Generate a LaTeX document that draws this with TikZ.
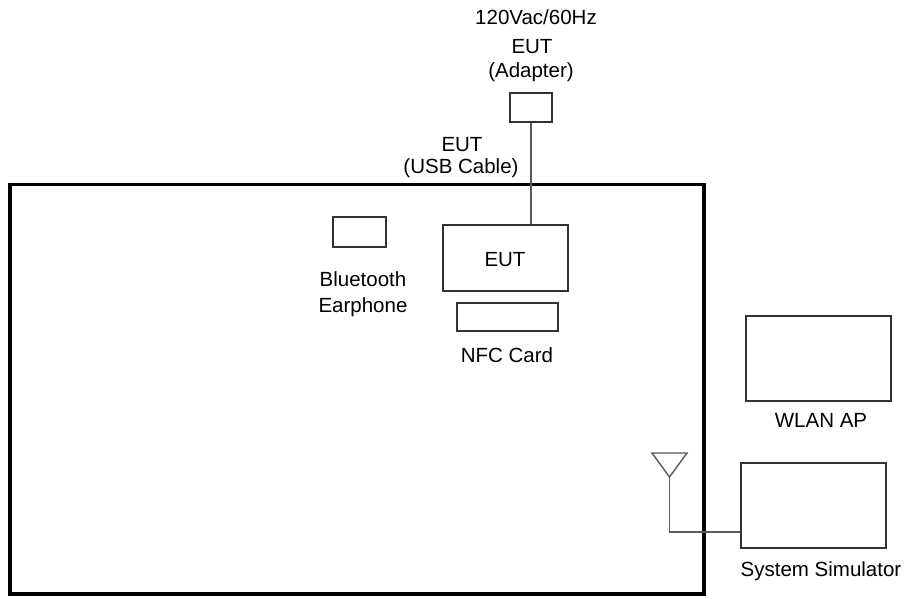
\documentclass[tikz,border=0pt]{standalone}
\usepackage{fontspec}
\setmainfont{Liberation Sans}
\begin{document}
\begin{tikzpicture}[x=1pt,y=-1pt,
  box/.style={draw=black!80,line width=1.4pt,minimum width=#1,inner sep=0pt},
  frame/.style={draw=black,line width=3.8pt},
  wire/.style={draw=black!65,line width=1.4pt},
  lbl/.style={font=\fontsize{20.5}{24}\selectfont,inner sep=0pt,anchor=base,text=black}]
\useasboundingbox (0,0) rectangle (910,598);
% main table frame
\draw[frame] (10,184.5) rectangle (704,594);
% boxes
\node[box=42pt,minimum height=29pt] (adapter) at (531,107.5) {};
\node[box=125pt,minimum height=66pt] (eut) at (505.5,258) {};
\node[box=53pt,minimum height=30pt] (bt) at (359.5,232) {};
\node[box=101pt,minimum height=28pt] (nfc) at (507.5,317) {};
\node[box=145pt,minimum height=85pt] (wlan) at (818.5,358.5) {};
\node[box=145pt,minimum height=85pt] (sim) at (813.5,505.5) {};
% antenna
\coordinate (antL) at (652,453);
\coordinate (antR) at (687,453);
\coordinate (antA) at (669.5,477);
\coordinate (antB) at (669.5,532);
\draw[wire,line join=miter] (antL) -- (antR) -- (antA) -- cycle;
% connectors
\draw[wire] (adapter.south) -- (adapter.south |- eut.north);
\draw[wire] (antA) -- (antB) -- (antB -| sim.west);
% labels
\node[lbl] (t1) at (536,24) {120Vac/60Hz};
\node[lbl] (t2) at (532,53) {EUT};
\node[lbl] (t3) at (531,77) {(Adapter)};
\node[lbl] (t4) at (462,151) {EUT};
\node[lbl] (t5) at (461,173) {(USB Cable)};
\node[lbl] (t6) at (505,266) {EUT};
\node[lbl] (t7) at (363,286) {Bluetooth};
\node[lbl] (t8) at (363,312) {Earphone};
\node[lbl] (t9) at (507,362) {NFC Card};
\node[lbl] (t10) at (821,427) {WLAN AP};
\node[lbl] (t11) at (821,576) {System Simulator};
\end{tikzpicture}
\end{document}
